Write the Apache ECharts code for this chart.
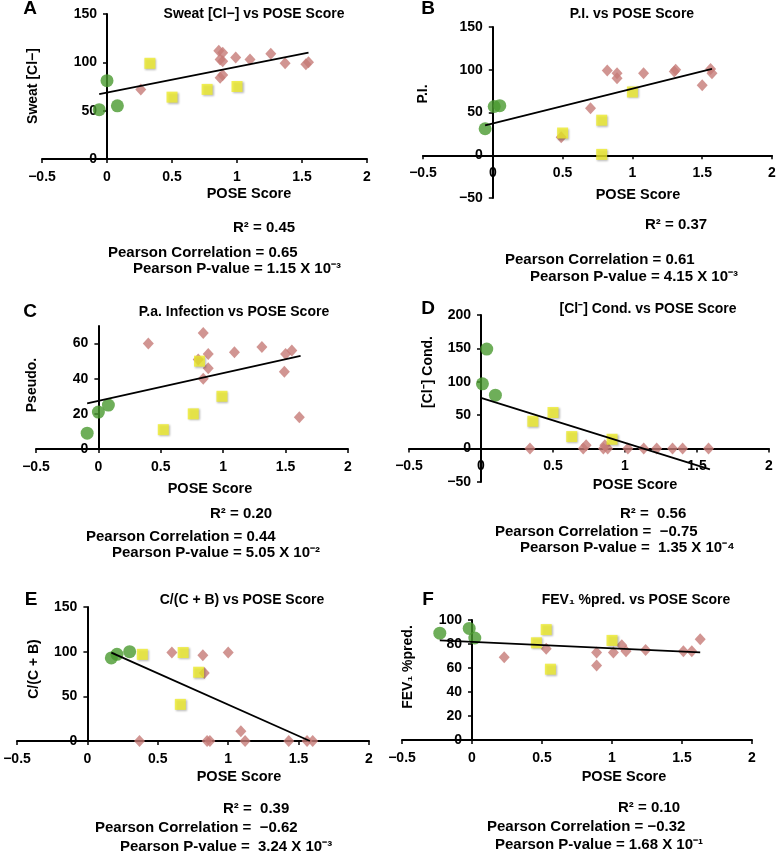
<!DOCTYPE html>
<html>
<head>
<meta charset="utf-8">
<script src="https://cdn.jsdelivr.net/npm/echarts@6/dist/echarts.min.js"></script>
<style>
html,body{margin:0;padding:0;background:#fff;}
#c{width:778px;height:853px;}
</style>
</head>
<body>
<div id="c"></div>
<script>
// ---- Data (POSE Score, value) ----
const xTicks = [-0.5, 0, 0.5, 1, 1.5, 2];

// Panel A: Sweat [Cl-]
const aGreen  = [[-0.06,51],[0.00,81],[0.08,55]];
const aYellow = [[0.33,99],[0.50,64],[0.77,72],[1.00,75]];
const aRed    = [[0.26,72],[0.86,112],[0.89,110],[0.87,103],[0.89,101],[0.87,84],[0.89,87],[0.99,105],[1.10,103],[1.26,109],[1.37,99],[1.53,98],[1.55,100]];
const aTrend  = [[-0.06,67],[1.55,110]];

// Panel B: P.I.
const bGreen  = [[-0.055,31],[0.01,57],[0.05,58]];
const bYellow = [[0.50,26],[0.78,41],[0.78,1],[1.00,74]];
const bRed    = [[0.49,21],[0.70,55],[0.82,99],[0.89,96],[0.89,90],[1.08,96],[1.30,98],[1.31,100],[1.50,82],[1.56,101],[1.57,96]];
const bTrend  = [[-0.055,35],[1.57,101]];

// Panel C: Pseudo.
const cGreen  = [[-0.09,9],[0.00,21],[0.08,25]];
const cYellow = [[0.52,11],[0.76,20],[0.81,50],[0.99,30]];
const cRed    = [[0.40,60],[0.80,51],[0.84,66],[0.88,54],[0.88,46],[0.84,40],[1.09,55],[1.31,58],[1.49,44],[1.50,54],[1.55,56],[1.61,18]];
const cTrend  = [[-0.09,26],[1.62,53]];

// Panel D: [Cl-] Cond.
const dGreen  = [[0.04,149],[0.01,97],[0.10,80]];
const dYellow = [[0.36,41],[0.50,54],[0.63,18],[0.91,14]];
const dRed    = [[0.34,0],[0.71,0],[0.73,5],[0.85,0],[0.86,5],[0.88,0],[1.02,0],[1.13,0],[1.22,0],[1.33,0],[1.40,0],[1.58,0]];
const dTrend  = [[0.00,76],[1.59,-31]];

// Panel E: C/(C + B)
const eGreen  = [[0.17,93],[0.21,97],[0.30,100]];
const eYellow = [[0.39,97],[0.68,99],[0.79,77],[0.66,41]];
const eRed    = [[0.37,0],[0.60,99],[0.82,96],[0.83,76],[0.85,0],[0.87,0],[1.00,99],[1.09,11],[1.12,0],[1.43,0],[1.56,0],[1.60,0]];
const eTrend  = [[0.17,99],[1.58,0]];

// Panel F: FEV1 %pred.
const fGreen  = [[-0.23,89],[-0.02,93],[0.02,85]];
const fYellow = [[0.46,81],[0.53,92],[0.56,59],[1.00,83]];
const fRed    = [[0.23,69],[0.53,76],[0.89,73],[0.89,62],[1.01,73],[1.07,79],[1.10,74],[1.24,75],[1.51,74],[1.57,74],[1.63,84]];
const fTrend  = [[-0.23,83],[1.63,73]];

// y-axis ranges: [min, max, interval]
const yRanges = [[0,150,50],[-50,150,50],[0,70,20],[-50,200,50],[0,150,50],[0,100,20]];

// Texts
const letters = ['A','B','C','D','E','F'];
const titles = ['Sweat [Cl\u2212] vs POSE Score','P.I. vs POSE Score','P.a. Infection vs POSE Score','[Cl\u207B] Cond. vs POSE Score','C/(C + B) vs POSE Score','FEV\u2081 %pred. vs POSE Score'];
const yNames = ['Sweat [Cl\u2212]','P.I.','Pseudo.','[Cl\u207B] Cond.','C/(C + B)','FEV\u2081 %pred.'];
const xName = 'POSE Score';
const r2Text = ['R\u00B2 = 0.45','R\u00B2 = 0.37','R\u00B2 = 0.20','R\u00B2 =  0.56','R\u00B2 =  0.39','R\u00B2 = 0.10'];
const corrText = ['Pearson Correlation = 0.65','Pearson Correlation = 0.61','Pearson Correlation = 0.44','Pearson Correlation =  \u22120.75','Pearson Correlation =  \u22120.62','Pearson Correlation = \u22120.32'];
const pText = ['Pearson P-value = 1.15 X 10\u207B\u00B3','Pearson P-value = 4.15 X 10\u207B\u00B3','Pearson P-value = 5.05 X 10\u207B\u00B2','Pearson P-value =  1.35 X 10\u207B\u2074','Pearson P-value =  3.24 X 10\u207B\u00B3','Pearson P-value = 1.68 X 10\u207B\u00B9'];

// ---- Layout (pixels) ----
const grids = [
  {left:42,  top:14,  width:325, height:145},
  {left:423, top:27,  width:349, height:171},
  {left:36,  top:326, width:312, height:123},
  {left:409, top:315, width:360, height:167},
  {left:17,  top:607, width:352, height:134},
  {left:402, top:620, width:350, height:120}
];
const letterPos = [[30,9],[428,9],[30,312],[428,309],[31,600],[428,600]];
const titlePos  = [[254,14],[632,14],[234,312],[648,309],[242,600],[636,600]];
const yNamePos  = [[33,86],[423,94],[32,385],[428,372],[34,669],[408,667]];
const xNamePos  = [[249,194],[638,195],[210,489],[635,485],[239,777],[624,777]];
const r2Pos   = [[233,228],[645,225],[210,514],[620,514],[223,809],[618,808]];
const corrPos = [[108,253],[505,260],[86,537],[495,532],[95,828],[487,827]];
const pPos    = [[133,269],[530,277],[112,553],[520,548],[120,847],[495,845]];

const FONT = '"Liberation Sans", Arial, Helvetica, sans-serif';
const GREEN = '#4a9a2f', YELLOW = '#efec2c', RED = '#c67a77';

const panels = [
  [aRed,aYellow,aGreen,aTrend],[bRed,bYellow,bGreen,bTrend],[cRed,cYellow,cGreen,cTrend],
  [dRed,dYellow,dGreen,dTrend],[eRed,eYellow,eGreen,eTrend],[fRed,fYellow,fGreen,fTrend]
];

const fmt = v => (v < 0 ? '\u2212' + Math.abs(v) : String(v));
const xMin = xTicks[0], xMax = xTicks[xTicks.length - 1];

// Axes cross at zero: shift whole axis (line, ticks, labels) inward to the zero position
const yAxisShift = grids.map(g => -g.width * (0 - xMin) / (xMax - xMin));
const xAxisShift = grids.map((g, i) => -g.height * (0 - yRanges[i][0]) / (yRanges[i][1] - yRanges[i][0]));

const option = {
  animation: false,
  backgroundColor: '#fff',
  grid: grids.map(g => Object.assign({outerBoundsMode:'none', containLabel:false}, g)),
  xAxis: grids.map((g,i) => ({
    type:'value', gridIndex:i, min:xMin, max:xMax, interval:0.5, position:'bottom', offset:xAxisShift[i],
    splitLine:{show:false},
    axisLine:{onZero:false, lineStyle:{color:'#000', width:2}},
    axisTick:{show:true, length:4, lineStyle:{color:'#000', width:1.5}},
    axisLabel:{color:'#000', fontFamily:FONT, fontWeight:'bold', fontSize:14, margin:11, formatter:fmt}
  })),
  yAxis: yRanges.map((r,i) => ({
    type:'value', gridIndex:i, min:r[0], max:r[1], interval:r[2], position:'left', offset:yAxisShift[i],
    splitLine:{show:false},
    axisLine:{onZero:false, lineStyle:{color:'#000', width:2}},
    axisTick:{show:true, length:4, lineStyle:{color:'#000', width:1.5}},
    axisLabel:{color:'#000', fontFamily:FONT, fontWeight:'bold', fontSize:14, margin:10, formatter:fmt,
      showMaxLabel: (r[1] % r[2] === 0)}
  })),
  series: [],
  graphic: []
};

panels.forEach((p,i) => {
  option.series.push({type:'scatter', xAxisIndex:i, yAxisIndex:i, data:p[0], symbol:'diamond', symbolSize:[11,12],
    itemStyle:{color:RED}, z:2});
  option.series.push({type:'scatter', xAxisIndex:i, yAxisIndex:i, data:p[1], symbol:'rect', symbolSize:11,
    itemStyle:{color:YELLOW, shadowBlur:2, shadowColor:'rgba(0,0,0,0.35)', shadowOffsetX:1, shadowOffsetY:1}, z:3});
  option.series.push({type:'scatter', xAxisIndex:i, yAxisIndex:i, data:p[2], symbol:'circle', symbolSize:13,
    itemStyle:{color:GREEN}, z:4});
  option.series.push({type:'line', xAxisIndex:i, yAxisIndex:i, data:p[3], symbol:'none',
    lineStyle:{color:'#000', width:1.8}, z:5});
});

function txt(s, x, y, size, align, rot) {
  return {type:'text', x:x, y:y, rotation: rot || 0, z:10,
    style:{text:s, fill:'#000', font:'bold ' + size + 'px ' + FONT, textAlign:align, textVerticalAlign:'middle'}};
}

for (let i = 0; i < 6; i++) {
  option.graphic.push(txt(letters[i], letterPos[i][0], letterPos[i][1], 19, 'center'));
  option.graphic.push(txt(titles[i], titlePos[i][0], titlePos[i][1], 14, 'center'));
  option.graphic.push(txt(yNames[i], yNamePos[i][0], yNamePos[i][1], 14, 'center', Math.PI/2));
  option.graphic.push(txt(xName, xNamePos[i][0], xNamePos[i][1], 14.5, 'center'));
  option.graphic.push(txt(r2Text[i], r2Pos[i][0], r2Pos[i][1], 15, 'left'));
  option.graphic.push(txt(corrText[i], corrPos[i][0], corrPos[i][1], 15, 'left'));
  option.graphic.push(txt(pText[i], pPos[i][0], pPos[i][1], 15, 'left'));
}

const chart = echarts.init(document.getElementById('c'));
chart.setOption(option);
</script>
</body>
</html>
